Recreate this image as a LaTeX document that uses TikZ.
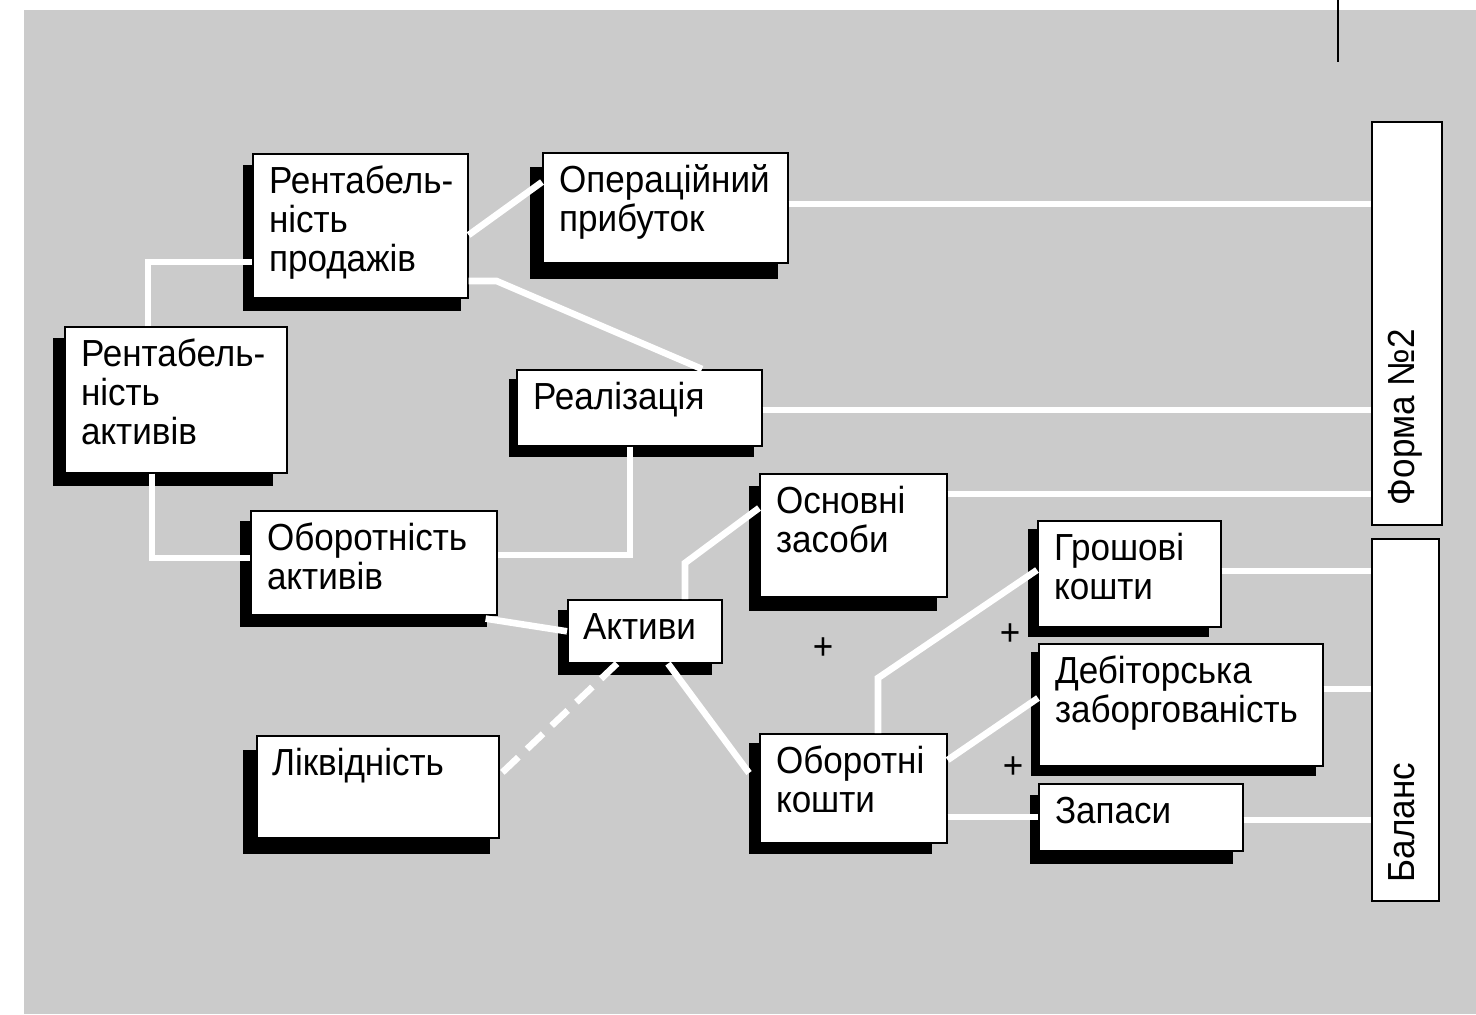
\documentclass[tikz,border=0pt]{standalone}
\usepackage{fontspec}
\setmainfont[FakeStretch=0.93]{Liberation Sans}
\usetikzlibrary{calc}
\pgfdeclarelayer{back}
\pgfdeclarelayer{shade}
\pgfsetlayers{back,shade,main}
\definecolor{panelgray}{RGB}{203,203,203}

% a white box given by its corners (name, x1, y1, x2, y2)
\newcommand\panel[5]{%
  \node[box, minimum width={(#4-#2)*0.5pt}, minimum height={(#5-#3)*0.5pt}] (#1) at (#2,#3) {};}
% black offset shadow behind a box (name, left shift, right shift, down shift)
\newcommand\shadowof[4]{%
  \fill[black] ($(#1.north west)+(#2,#4)$) rectangle ($(#1.south east)+(#3,#4)$);}

\begin{document}
\begin{tikzpicture}[x=0.5pt,y=-0.5pt,
  box/.style={draw=black, line width=0.8pt, fill=white, rectangle, inner sep=0pt, anchor=north west},
  txt/.style={inner sep=0pt, outer sep=0pt, align=left, anchor=north west,
    font=\fontsize{18.85pt}{19.5pt}\selectfont},
  wire/.style={draw=white, line width=3.3pt},
  dashwire/.style={wire, dash pattern=on 11pt off 6pt},
]
\useasboundingbox (0,0) rectangle (1476,1014);

\begin{pgfonlayer}{back}
  \fill[panelgray] (24,10) rectangle (1476,1014);
\end{pgfonlayer}

% boxes
\panel{rp}{252}{153}{467}{297}
\panel{op}{542}{152}{787}{262}
\panel{ra}{64}{326}{286}{472}
\panel{re}{516}{369}{761}{445}
\panel{oa}{250}{510}{496}{614}
\panel{ak}{567}{599}{721}{662}
\panel{os}{759}{473}{946}{596}
\panel{ok}{759}{733}{946}{842}
\panel{lk}{256}{735}{498}{837}
\panel{gk}{1037}{520}{1220}{626}
\panel{dz}{1038}{643}{1322}{765}
\panel{zp}{1038}{783}{1242}{850}
\panel{f2}{1371}{121}{1441}{524}
\panel{bl}{1371}{538}{1438}{900}

\begin{pgfonlayer}{shade}
  \shadowof{rp}{-9}{-8}{12}
  \shadowof{op}{-12}{-11}{15}
  \shadowof{ra}{-11}{-15}{12}
  \shadowof{re}{-7}{-9}{10}
  \shadowof{oa}{-10}{-11}{11}
  \shadowof{ak}{-9}{-11}{11}
  \shadowof{os}{-10}{-11}{13}
  \shadowof{ok}{-10}{-16}{10}
  \shadowof{lk}{-13}{-10}{15}
  \shadowof{gk}{-9}{-13}{9}
  \shadowof{dz}{-7}{-8}{9}
  \shadowof{zp}{-8}{-11}{12}
\end{pgfonlayer}

% texts
\newcommand\firstline{\rule{0pt}{20pt}}
\node[txt] (rp-t) at ($(rp.north west)+(17,0)$) {\firstline Рентабель-\\ність\\продажів};
\node[txt] (op-t) at ($(op.north west)+(17,0)$) {\firstline Операційний\\прибуток};
\node[txt] (ra-t) at ($(ra.north west)+(17,0)$) {\firstline Рентабель-\\ність\\активів};
\node[txt] (re-t) at ($(re.north west)+(17,0)$) {\firstline Реалізація};
\node[txt] (oa-t) at ($(oa.north west)+(17,0)$) {\firstline Оборотність\\активів};
\node[txt] (ak-t) at ($(ak.north west)+(16,0)$) {\firstline Активи};
\node[txt] (os-t) at ($(os.north west)+(17,0)$) {\firstline Основні\\засоби};
\node[txt] (ok-t) at ($(ok.north west)+(17,0)$) {\firstline Оборотні\\кошти};
\node[txt] (lk-t) at ($(lk.north west)+(16,0)$) {\firstline Ліквідність};
\node[txt] (gk-t) at ($(gk.north west)+(17,0)$) {\firstline Грошові\\кошти};
\node[txt] (dz-t) at ($(dz.north west)+(17,0)$) {\firstline Дебіторська\\заборгованість};
\node[txt] (zp-t) at ($(zp.north west)+(17,0)$) {\firstline Запаси};
\node[txt, rotate=90, anchor=base west] (f2-t) at (1414,505) {Форма №2};
\node[txt, rotate=90, anchor=base west] (bl-t) at (1414,882) {Баланс};

% plus signs
\node[txt, anchor=center] (plus1) at (823,649) {+};
\node[txt, anchor=center] (plus2) at (1010,635) {+};
\node[txt, anchor=center] (plus3) at (1013,768) {+};

% connectors
\draw[wire] ($(rp.north east)+(0,82)$) -- ($(op.north west)+(0,30)$);
\draw[wire] ($(rp.north east)+(0,128)$) -- ++(28,0) -- ($(re.north west)+(186,0)$);
\draw[wire] ($(ra.north west)+(84,0)$) |- ($(rp.north west)+(0,109)$);
\draw[wire] ($(ra.south west)+(88,0)$) |- ($(oa.north west)+(0,48)$);
\draw[wire] ($(re.south west)+(114,0)$) |- ($(oa.north east)+(0,45)$);
\draw[wire] ($(oa.south east)+(-12,3)$) -- (ak.west);
\draw[wire] ($(ak.north west)+(118,0)$) -- ++(0,-36) -- ($(os.north west)+(0,35)$);
\draw[wire] ($(ak.south west)+(101,0)$) -- ($(ok.north west)+(-10,40)$);
\draw[dashwire] ($(ak.south west)+(50,0)$) -- ($(lk.north east)+(0,40)$);
\draw[wire] ($(ok.north west)+(119,0)$) -- ++(0,-55) -- ($(gk.north west)+(0,50)$);
\draw[wire] ($(ok.north east)+(0,27)$) -- ($(dz.north west)+(0,55)$);
\draw[wire] ($(ok.north east)+(0,84)$) coordinate (okz) -- (okz -| zp.west);
\draw[wire] ($(op.north east)+(0,52)$) coordinate (opf) -- (opf -| f2.west);
\draw[wire] ($(re.north east)+(0,41)$) coordinate (ref) -- (ref -| f2.west);
\draw[wire] ($(os.north east)+(0,21)$) coordinate (osf) -- (osf -| f2.west);
\draw[wire] ($(gk.north east)+(0,51)$) coordinate (gkb) -- (gkb -| bl.west);
\draw[wire] ($(dz.north east)+(0,46)$) coordinate (dzb) -- (dzb -| bl.west);
\draw[wire] ($(zp.north east)+(0,37)$) coordinate (zpb) -- (zpb -| bl.west);

% short rule at the top edge
\coordinate (tick top) at (1338,0);
\coordinate (tick end) at (1338,62);
\draw[line width=1pt] (tick top) -- (tick end);
\end{tikzpicture}
\end{document}
